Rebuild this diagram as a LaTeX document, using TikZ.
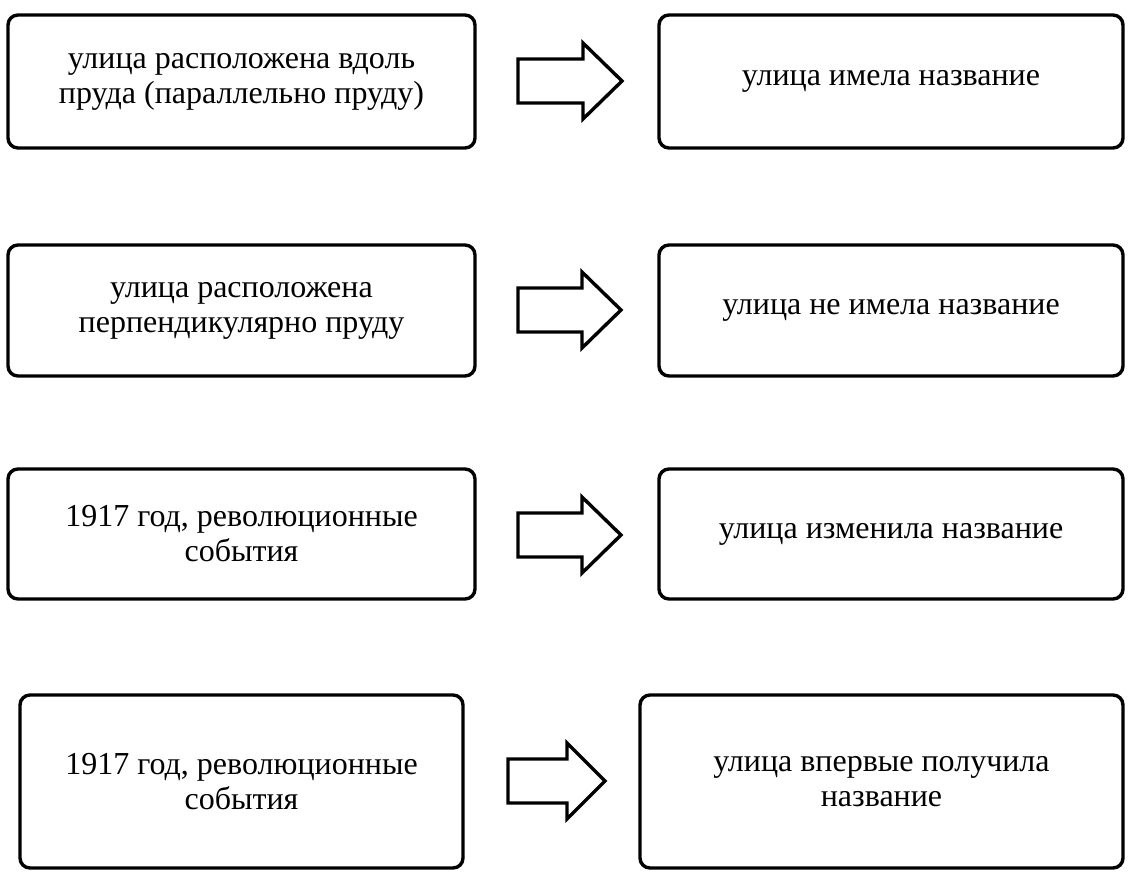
\documentclass[tikz,border=0pt]{standalone}
\usepackage{fontspec}
\setmainfont{Liberation Serif}
\usetikzlibrary{positioning}
\tikzstyle{box}=[draw,line width=1.7pt,rounded corners=5pt,align=center,inner sep=0pt,font=\fontsize{16}{17.5}\selectfont]
\tikzstyle{fat}=[draw,line width=1.7pt,miter limit=10]

\begin{document}
\begin{tikzpicture}[
  x=0.5pt,y=-0.5pt,
  left box/.style={box,minimum width=233.5pt},
  right box/.style={box,minimum width=232pt},
]
\useasboundingbox (0,0) rectangle (1128,877);

% causes
\node[left box,minimum height=66.5pt] (c1) at (241.5,81.5) {улица расположена вдоль\\пруда (параллельно пруду)};
\node[left box,minimum height=65.5pt] (c2) at (241.5,310.5) {улица расположена\\перпендикулярно пруду};
\node[left box,minimum height=65pt] (c3) at (241.5,534) {1917 год, революционные\\события};
\node[box,minimum width=221.5pt,minimum height=86.5pt] (c4) at (241.5,781.5) {1917 год, революционные\\события};

% results
\node[right box,minimum height=66.5pt] (r1) at (891,81.5) {улица имела название};
\node[right box,minimum height=65.5pt] (r2) at (891,310.5) {улица не имела название};
\node[right box,minimum height=65pt] (r3) at (891,534) {улица изменила название};
\node[box,minimum width=241.5pt,minimum height=86.5pt] (r4) at (881.5,781.5) {улица впервые получила\\название};

% block arrows
\coordinate (a1) at (518,81);
\coordinate (a2) at (518,310);
\coordinate (a3) at (518,535);
\coordinate (a4) at (508,781);
\foreach \a/\base/\head in {a1/65/39,a2/64/39,a3/64/39,a4/59/38}
  \draw[fat] (\a) ++(0,-22) -- ++(\base,0) -- ++(0,-16) -- ++(\head,38)
    -- ++(-\head,38) -- ++(0,-16) -- ++(-\base,0) -- cycle;
\end{tikzpicture}
\end{document}
